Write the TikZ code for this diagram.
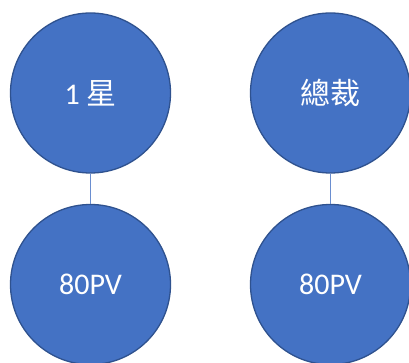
\documentclass[tikz,border=0pt]{standalone}
\usepackage{fontspec}
\setmainfont{Carlito}
\newfontfamily\cjk{Noto Sans CJK TC}
\definecolor{fillblue}{HTML}{4472C4}
\definecolor{edgeblue}{HTML}{2F528F}
\definecolor{linkblue}{HTML}{6A8ED0}
\newcommand{\lowtext}[1]{\raisebox{-2pt}{#1}}
\begin{document}
\begin{tikzpicture}[x=1pt,y=-1pt,
  bubble/.style={circle, draw=edgeblue, fill=fillblue, line width=1.3pt,
    minimum size=160pt, inner sep=0pt, text=white, font=\fontsize{30}{36}\selectfont},
  link/.style={draw=linkblue, line width=1.2pt}]
\useasboundingbox (0,0) rectangle (409,363);
\node[bubble] (a) at (90.5,93) {\lowtext{1 {\cjk 星}}};
\node[bubble] (b) at (90.5,284.5) {\lowtext{80PV}};
\node[bubble] (c) at (330.5,93) {\lowtext{\cjk 總裁}};
\node[bubble] (d) at (330.5,284.5) {\lowtext{80PV}};
\draw[link] (a.south) -- (b.north);
\draw[link] (c.south) -- (d.north);
\end{tikzpicture}
\end{document}
